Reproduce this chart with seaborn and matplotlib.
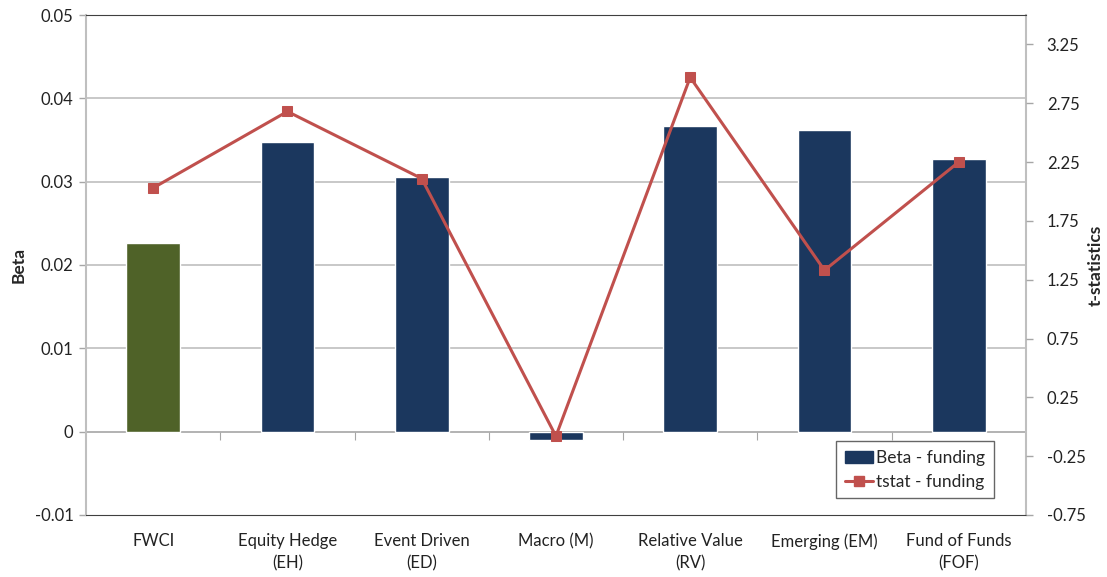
import matplotlib
matplotlib.use('Agg')
import matplotlib.pyplot as plt
import seaborn as sns
from matplotlib.patches import Patch
from matplotlib.lines import Line2D

# chart data
categories = ['FWCI', 'Equity Hedge\n(EH)', 'Event Driven\n(ED)', 'Macro (M)',
              'Relative Value\n(RV)', 'Emerging (EM)', 'Fund of Funds\n(FOF)']
beta = [0.0226, 0.0348, 0.0305, -0.0010, 0.0367, 0.0362, 0.0327]
tstat = [2.03, 2.68, 2.11, -0.08, 2.97, 1.33, 2.25]
beta_ticks = [-0.01, 0, 0.01, 0.02, 0.03, 0.04, 0.05]
beta_tick_labels = ['-0.01', '0', '0.01', '0.02', '0.03', '0.04', '0.05']
t_ticks = [-0.75, -0.25, 0.25, 0.75, 1.25, 1.75, 2.25, 2.75, 3.25]

navy = '#1B375E'
olive = '#4F6228'
red = '#C0504D'
grid_gray = '#BFBFBF'
bar_colors = [olive] + [navy] * 6

sns.set_style('white')
plt.rcParams['font.family'] = ['Lato', 'DejaVu Sans']

fig = plt.figure(figsize=(11.07, 5.77), dpi=100)
ax = fig.add_axes([0.0777, 0.1075, 0.849, 0.8665])

sns.barplot(x=categories, y=beta, hue=categories, palette=bar_colors,
            legend=False, width=0.4, saturation=1, ax=ax, zorder=2)
ax.set_xlim(-0.5, 6.5)
ax.set_ylim(-0.01, 0.05)
ax.set_yticks(beta_ticks)
ax.set_yticklabels(beta_tick_labels)
for y in beta_ticks[2:-1]:
    ax.axhline(y, color=grid_gray, lw=1.2, zorder=0)
ax.axhline(0, color='#A6A6A6', lw=1.2, zorder=1)

ax.tick_params(axis='y', length=5, width=1, color='#A6A6A6', labelsize=12,
               labelcolor='#222222', pad=4, left=True)
ax.tick_params(axis='x', length=0, labelsize=12, labelcolor='#222222', pad=13)
for lbl in ax.get_xticklabels():
    lbl.set_linespacing(1.45)
ax.set_ylabel('Beta', fontsize=12.5, fontweight='bold')
ax.yaxis.set_label_coords(-0.0635, 0.5)
ax.set_xlabel('')

for side in ['left', 'right']:
    ax.spines[side].set_color(grid_gray)
    ax.spines[side].set_linewidth(1.5)
ax.spines['top'].set_color('#404040')
ax.spines['bottom'].set_color('#404040')

# category axis crossing at beta = 0 with boundary ticks
sec = ax.secondary_xaxis((0 + 0.01) / 0.06)
sec.set_xticks([i + 0.5 for i in range(len(categories) - 1)])
sec.tick_params(axis='x', direction='out', length=6, color='#A6A6A6', labelbottom=False)
sec.spines['bottom'].set_visible(False)

ax2 = ax.twinx()
sns.lineplot(x=categories, y=tstat, sort=False, color=red, lw=2.2,
             marker='s', markersize=7, markeredgecolor=red, ax=ax2, zorder=3)
ax2.set_xlim(-0.5, 6.5)
ax2.set_ylim(-0.75, 3.5)
ax2.set_yticks(t_ticks)
ax2.set_yticklabels([f'{t:.2f}' for t in t_ticks])
ax2.tick_params(axis='y', length=5, width=1, color='#A6A6A6', labelsize=12,
                labelcolor='#222222', pad=10, right=True)
ax2.set_ylabel('t-statistics', fontsize=12.5, fontweight='bold', rotation=90)
ax2.yaxis.set_label_coords(1.066, 0.5)
for s in ax2.spines.values():
    s.set_visible(False)

handles = [Patch(facecolor=navy, edgecolor=navy),
           Line2D([0], [0], color=red, lw=2.2, marker='s', markersize=7)]
leg = ax2.legend(handles, ['Beta - funding', 'tstat - funding'], loc='lower right',
                 bbox_to_anchor=(0.975, 0.016), fontsize=12.5, frameon=True,
                 fancybox=False, edgecolor='#404040', handlelength=1.6,
                 handletextpad=0.2, borderpad=0.5, labelspacing=0.45)
leg.get_frame().set_linewidth(1)

fig.savefig('out.png', dpi=100)
